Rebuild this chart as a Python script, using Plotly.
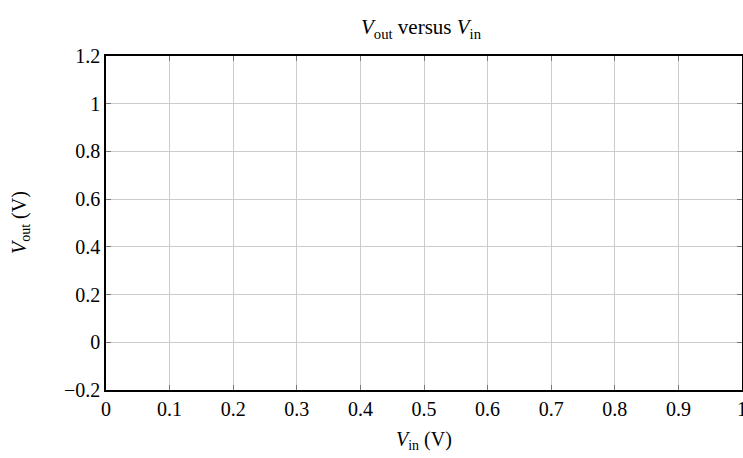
import plotly.graph_objects as go

x_ticks = [0, 0.1, 0.2, 0.3, 0.4, 0.5, 0.6, 0.7, 0.8, 0.9, 1]
x_labels = ["0", "0.1", "0.2", "0.3", "0.4", "0.5", "0.6", "0.7", "0.8", "0.9", "1"]
y_ticks = [-0.2, 0, 0.2, 0.4, 0.6, 0.8, 1, 1.2]
y_labels = ["−0.2", "0", "0.2", "0.4", "0.6", "0.8", "1", "1.2"]
v_in = []
v_out = []

FONT = "Liberation Serif"
FS = 20

fig = go.Figure()
fig.add_trace(go.Scatter(x=v_in, y=v_out, mode="lines", showlegend=False))

axis_common = dict(
    showline=True, linecolor="black", linewidth=1.5, mirror="ticks",
    showgrid=True, gridcolor="#cccccc", gridwidth=1,
    ticks="inside", ticklen=5, tickcolor="#777777", tickwidth=1,
    zeroline=False, automargin=False, ticklabeloverflow="allow",
    tickfont=dict(family=FONT, size=FS, color="black"),
)

fig.update_layout(
    width=743, height=458,
    margin=dict(l=106, r=1, t=56, b=68),
    paper_bgcolor="white", plot_bgcolor="white",
    title=dict(text="<i>V</i><sub>out</sub> versus <i>V</i><sub>in</sub>",
               x=(100 + 742) / 2 / 743, xanchor="center", y=1 - 27 / 458, yanchor="middle",
               font=dict(family=FONT, size=21, color="black")),
    xaxis=dict(range=[0, 1], tickvals=x_ticks, ticktext=x_labels, **axis_common),
    yaxis=dict(range=[-0.2, 1.2], tickvals=y_ticks, ticktext=y_labels, **axis_common),
    annotations=[
        dict(text="<i>V</i><sub>in</sub> (V)", xref="paper", yref="paper",
             x=0.5, y=-50 / 334, xanchor="center", yanchor="middle", showarrow=False,
             font=dict(family=FONT, size=FS, color="black")),
        dict(text="<i>V</i><sub>out</sub> (V)", xref="paper", yref="paper",
             x=-86 / 636, y=(390 - 223) / 334, xanchor="center", yanchor="middle", showarrow=False,
             textangle=-90, font=dict(family=FONT, size=FS, color="black")),
    ],
)

fig.write_html("out.html", config={"displayModeBar": False},
               post_script="document.body.style.margin='0';document.body.style.overflow='hidden';")
